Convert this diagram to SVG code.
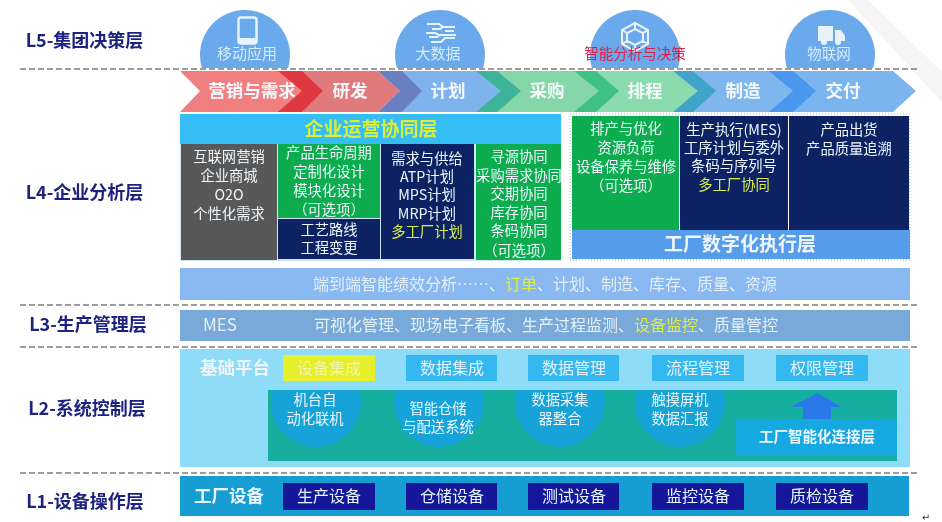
<svg xmlns="http://www.w3.org/2000/svg" width="942" height="522" viewBox="0 0 942 522">
<style>
text{font-family:"Noto Sans CJK SC","Noto Sans",sans-serif;text-anchor:middle;fill:#eef6fc}
.lv{font-size:18px;font-weight:700;fill:#1c2280}
.ch{font-size:17.5px;font-weight:700;fill:#f4f8fb}
.b{font-size:14.3px}
.c{font-size:15px;fill:#d5ecfa}
.bar{font-size:16px;text-anchor:start;fill:#e3f0fa}
.btn{font-size:16px;fill:#e6f5fc}
.t{font-size:17.5px;font-weight:700}
.y{fill:#dcec4a}
.dash{stroke:#7d7d7d;stroke-width:1.6;stroke-dasharray:6 3;fill:none}
.circ{fill:#6aa9ec}
.tc{fill:#12a3d8}
.top{fill:#35b8ef}
.eq{fill:#13189b}
.navy{fill:#0a2463}
.grn{fill:#0ead50}
.ic{fill:#e8f2fb}
.ics{stroke:#e8f2fb;stroke-width:2;fill:none}
</style>
<defs>
<clipPath id="topClip"><rect x="0" y="0" width="942" height="68"/></clipPath>
<clipPath id="tealClip"><rect x="268" y="390" width="629" height="71"/></clipPath>
<filter id="soft" x="0" y="0" width="100%" height="100%"><feGaussianBlur stdDeviation="0.45"/></filter>
</defs>
<rect width="942" height="522" fill="#ffffff"/>
<g filter="url(#soft)">
<polygon points="848,0 868,0 942,72 942,102" fill="#f5f5f5"/>

<g id="level-labels">
<text class="lv" x="84.5" y="47">L5-集团决策层</text>
<text class="lv" x="84.5" y="199">L4-企业分析层</text>
<text class="lv" x="88" y="331">L3-生产管理层</text>
<text class="lv" x="87" y="415">L2-系统控制层</text>
<text class="lv" x="85" y="508">L1-设备操作层</text>
</g>

<g id="l5-apps">
<g id="app-mobile">
<circle class="circ" cx="245" cy="55" r="45" clip-path="url(#topClip)"/>
<rect x="238.5" y="17.5" width="18" height="26" rx="2.5" fill="none" stroke="#e8f2fb" stroke-width="2.5"/>
<rect class="ic" x="239" y="38" width="17" height="5"/>
<text class="c" x="247" y="59">移动应用</text>
</g>
<g id="app-bigdata">
<circle class="circ" cx="440" cy="55" r="45" clip-path="url(#topClip)"/>
<path class="ics" stroke-width="1.8" d="M427 24h12l4 3h12M432 29h8l3-2M426 33h9l4 2h17M429 37h8l3-2M431 42h10l4-4h10M445 31h9"/>
<text class="c" x="438" y="59">大数据</text>
</g>
<g id="app-analytics">
<circle class="circ" cx="635" cy="55" r="45" clip-path="url(#topClip)"/>
<path class="ics" d="M635 23l13 7v14l-13 7l-13-7v-14zM635 29l8 4v8l-8 4l-8-4v-8zM635 23v6M648 30l-5 3M648 44l-5-3M635 51v-6M622 44l5-3M622 30l5 3"/>
<text class="c" style="fill:#d6234a;font-size:14.5px" x="635" y="59">智能分析与决策</text>
</g>
<g id="app-iot">
<circle class="circ" cx="830" cy="55" r="45" clip-path="url(#topClip)"/>
<path class="ic" d="M818 26h15v15h-15zM835 30h6l4 6v5h-10z"/>
<circle class="ic" cx="824" cy="42" r="3"/><circle class="ic" cx="838" cy="42" r="3"/>
<text class="c" style="font-size:14.5px" x="829" y="59">物联网</text>
</g>
</g>

<g id="connectors">
<line class="dash" x1="20" y1="69" x2="919" y2="69"/>
<line class="dash" x1="20" y1="305" x2="920" y2="305"/>
<line class="dash" x1="20" y1="347" x2="920" y2="347"/>
<line class="dash" x1="20" y1="473" x2="919" y2="473"/>
</g>

<g id="value-chain">
<g id="chain-marketing"><polygon points="180,71 302,71 323,91 302,112 180,112 200,91" fill="#f17f80"/></g>
<g id="chain-rd"><polygon points="278,71 378,71 400,91 378,112 278,112 302,91" fill="#e07a7c"/>
<polygon points="278,71 302,71 323,91 302,112 278,112 302,91" fill="#e0393f"/></g>
<g id="chain-plan"><polygon points="378,71 497,71 521,91 497,112 378,112 400,91" fill="#7fb3ee"/>
<polygon points="378,71 402,71 422,91 402,112 378,112 400,91" fill="#6b7fc0"/></g>
<g id="chain-purchase"><polygon points="476,71 574,71 619,91 574,112 476,112 501,91" fill="#85d6a8"/>
<polygon points="476,71 497,71 521,91 497,112 476,112 501,91" fill="#3cb39a"/></g>
<g id="chain-schedule"><polygon points="574,71 673,71 716,91 673,112 574,112 599,91" fill="#8adcae"/>
<polygon points="574,71 596,71 619,91 596,112 574,112 599,91" fill="#3fc184"/></g>
<g id="chain-make"><polygon points="673,71 769,71 816,91 769,112 673,112 698,91" fill="#80b6ee"/>
<polygon points="673,71 693,71 716,91 693,112 673,112 698,91" fill="#41a4c8"/></g>
<g id="chain-deliver"><polygon points="769,71 893,71 916,91 893,112 769,112 793,91" fill="#7cb4f0"/>
<polygon points="769,71 793,71 816,91 793,112 769,112 793,91" fill="#4a98ee"/></g>
<text class="ch" x="252" y="97">营销与需求</text>
<text class="ch" x="350" y="97">研发</text>
<text class="ch" x="448" y="97">计划</text>
<text class="ch" x="547" y="97">采购</text>
<text class="ch" x="645" y="97">排程</text>
<text class="ch" x="743" y="97">制造</text>
<text class="ch" x="843" y="97">交付</text>
</g>

<g id="enterprise-layer">
<rect x="180" y="114" width="381" height="147" fill="#cfe7f5"/>
<rect x="180" y="114" width="381" height="30" fill="#35bdf5"/>
<text class="t" style="fill:#d9ee3a;font-size:19px" x="371" y="136">企业运营协同层</text>
<g id="col-marketing">
<rect x="181" y="144" width="96" height="116" fill="#595959"/>
<text class="b" x="229" y="162">互联网营销</text>
<text class="b" x="229" y="181">企业商城</text>
<text class="b" x="229" y="200">O2O</text>
<text class="b" x="229" y="219">个性化需求</text>
</g>
<g id="col-plm">
<rect class="grn" x="278" y="144" width="102" height="74"/>
<text class="b" x="329" y="158">产品生命周期</text>
<text class="b" x="329" y="177">定制化设计</text>
<text class="b" x="329" y="196">模块化设计</text>
<text class="b" x="329" y="215">（可选项）</text>
</g>
<g id="col-process">
<rect class="navy" x="278" y="219" width="102" height="40"/>
<text class="b" x="329" y="235">工艺路线</text>
<text class="b" x="329" y="253">工程变更</text>
</g>
<g id="col-plan">
<rect class="navy" x="381" y="144" width="93" height="115"/>
<text class="b" x="427" y="164">需求与供给</text>
<text class="b" x="427" y="182">ATP计划</text>
<text class="b" x="427" y="200">MPS计划</text>
<text class="b" x="427" y="219">MRP计划</text>
<text class="b y" x="427" y="237">多工厂计划</text>
</g>
<g id="col-sourcing">
<rect class="grn" x="476" y="144" width="85" height="116"/>
<text class="b" x="519" y="162">寻源协同</text>
<text class="b" x="519" y="181">采购需求协同</text>
<text class="b" x="519" y="199">交期协同</text>
<text class="b" x="519" y="218">库存协同</text>
<text class="b" x="519" y="236">条码协同</text>
<text class="b" x="519" y="256">（可选项）</text>
</g>
</g>

<g id="factory-layer">
<rect x="570" y="114" width="340" height="146" fill="#ffffff" stroke="#8fb8dc" stroke-width="1" stroke-dasharray="1 2"/>
<g id="col-schedule">
<rect class="grn" x="572" y="116" width="107" height="114"/>
<text class="b" x="626" y="134">排产与优化</text>
<text class="b" x="626" y="153">资源负荷</text>
<text class="b" x="626" y="172">设备保养与维修</text>
<text class="b" x="626" y="191">（可选项）</text>
</g>
<g id="col-mes">
<rect class="navy" x="680" y="116" width="108" height="114"/>
<text class="b" x="734" y="135">生产执行(MES)</text>
<text class="b" x="734" y="153">工序计划与委外</text>
<text class="b" x="734" y="171">条码与序列号</text>
<text class="b y" x="734" y="190">多工厂协同</text>
</g>
<g id="col-delivery">
<rect class="navy" x="789" y="116" width="120" height="114"/>
<text class="b" x="849" y="135">产品出货</text>
<text class="b" x="849" y="154">产品质量追溯</text>
</g>
<rect x="572" y="230" width="338" height="29" fill="#559ceb"/>
<text class="t" style="font-size:19px" x="740" y="251">工厂数字化执行层</text>
</g>

<g id="kpi-bar">
<rect x="180" y="268" width="730" height="32" fill="#8ab8f0"/>
<text class="bar" x="313" y="290">端到端智能绩效分析……、<tspan class="y">订单</tspan>、计划、制造、库存、质量、资源</text>
</g>

<g id="mes-bar">
<rect x="180" y="310" width="730" height="31" fill="#78a9d8"/>
<text class="bar" style="font-size:17px" x="203" y="331">MES</text>
<text class="bar" x="314" y="331">可视化管理、现场电子看板、生产过程监测、<tspan class="y">设备监控</tspan>、质量管控</text>
</g>

<g id="platform">
<rect x="180" y="349" width="730" height="118" fill="#8edcf8"/>
<text class="t" x="235" y="374">基础平台</text>
<g id="p-device"><rect x="283" y="355" width="92" height="26" fill="#e6ef2b"/><text class="btn" style="fill:#f0f6a8" x="329" y="374">设备集成</text></g>
<g id="p-data"><rect class="top" x="406" y="355" width="91" height="26"/><text class="btn" x="452" y="374">数据集成</text></g>
<g id="p-manage"><rect class="top" x="528" y="355" width="91" height="26"/><text class="btn" x="574" y="374">数据管理</text></g>
<g id="p-flow"><rect class="top" x="652" y="355" width="92" height="26"/><text class="btn" x="698" y="374">流程管理</text></g>
<g id="p-auth"><rect class="top" x="776" y="355" width="92" height="26"/><text class="btn" x="822" y="374">权限管理</text></g>
<g id="connect-layer">
<rect x="268" y="390" width="629" height="71" fill="#18ae9f"/>
<g id="n-machine"><circle class="tc" cx="316" cy="402" r="45" clip-path="url(#tealClip)"/><text class="b" x="315" y="405">机台自</text><text class="b" x="315" y="424">动化联机</text></g>
<g id="n-storage"><circle class="tc" cx="439" cy="402" r="45" clip-path="url(#tealClip)"/><text class="b" x="438" y="414">智能仓储</text><text class="b" x="438" y="432">与配送系统</text></g>
<g id="n-collect"><circle class="tc" cx="560" cy="402" r="45" clip-path="url(#tealClip)"/><text class="b" x="560" y="405">数据采集</text><text class="b" x="560" y="424">器整合</text></g>
<g id="n-touch"><circle class="tc" cx="680" cy="402" r="45" clip-path="url(#tealClip)"/><text class="b" x="680" y="405">触摸屏机</text><text class="b" x="680" y="424">数据汇报</text></g>
<polygon points="817,393 842,407 831,407 831,419 803,419 803,407 791,407" fill="#2a78ea"/>
<rect x="736" y="419" width="161" height="37" fill="#13a8e0"/>
<text class="b" style="font-weight:700;font-size:14.5px" x="817" y="442">工厂智能化连接层</text>
</g>
</g>

<g id="equipment">
<rect x="180" y="476" width="729" height="40" fill="#129ed3"/>
<text class="t" x="229" y="502">工厂设备</text>
<g id="e-prod"><rect class="eq" x="283" y="483" width="92" height="27"/><text class="btn" x="329" y="502">生产设备</text></g>
<g id="e-ware"><rect class="eq" x="406" y="483" width="91" height="27"/><text class="btn" x="452" y="502">仓储设备</text></g>
<g id="e-test"><rect class="eq" x="528" y="483" width="91" height="27"/><text class="btn" x="574" y="502">测试设备</text></g>
<g id="e-mon"><rect class="eq" x="652" y="483" width="92" height="27"/><text class="btn" x="698" y="502">监控设备</text></g>
<g id="e-qc"><rect class="eq" x="776" y="483" width="92" height="27"/><text class="btn" x="822" y="502">质检设备</text></g>
</g>
<text style="font-family:'DejaVu Sans',sans-serif;font-size:10px;fill:#333" x="926" y="521">↵</text>
</g>
</svg>
